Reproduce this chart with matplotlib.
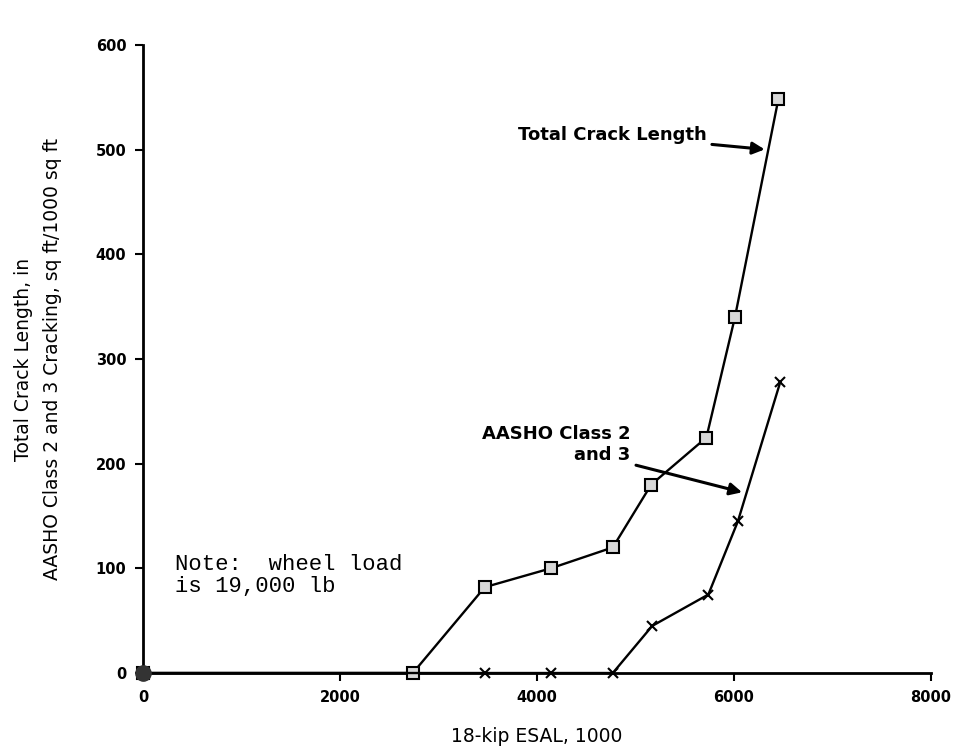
import matplotlib
matplotlib.use("Agg")
import matplotlib.pyplot as plt

# Total crack length (square markers)
esal_total = [0, 2740, 3470, 4140, 4770, 5160, 5720, 6010, 6450]
crack_total = [0, 0, 82, 100, 120, 180, 225, 340, 548]

# AASHO class 2 and 3 cracking (x markers)
esal_aasho = [0, 3470, 4140, 4770, 5170, 5740, 6040, 6470]
crack_aasho = [0, 0, 0, 0, 45, 75, 145, 278]

xticks = [0, 2000, 4000, 6000, 8000]
yticks = [0, 100, 200, 300, 400, 500, 600]

fig = plt.figure(figsize=(9.57, 7.55), dpi=100)
ax = fig.add_axes([0.1494, 0.1086, 0.8234, 0.8318])

ax.plot(esal_total, crack_total, color="black", lw=1.7,
        marker="s", ms=8, mfc="#d8d8d8", mec="black", mew=1.5, clip_on=False, zorder=3)
ax.plot(esal_aasho, crack_aasho, color="black", lw=1.7,
        marker="x", ms=7, mew=1.5, clip_on=False, zorder=3)
ax.plot([0], [0], marker="o", ms=11, color="#333333", clip_on=False, zorder=4)

ax.set_xlim(0, 8000)
ax.set_ylim(0, 600)
ax.set_xticks(xticks)
ax.set_yticks(yticks)
ax.tick_params(direction="out", length=6, width=1.5, labelsize=10.5, pad=6)
for lab in ax.get_xticklabels() + ax.get_yticklabels():
    lab.set_fontweight("bold")

for s in ["top", "right"]:
    ax.spines[s].set_visible(False)
for s in ["left", "bottom"]:
    ax.spines[s].set_linewidth(2)

ax.set_xlabel("18-kip ESAL, 1000", fontsize=13.5, labelpad=16)
ax.set_ylabel("Total Crack Length, in\nAASHO Class 2 and 3 Cracking, sq ft/1000 sq ft",
              fontsize=13.5, labelpad=24, linespacing=1.7)

ax.annotate("Total Crack Length", xy=(6340, 500), xytext=(5720, 514),
            ha="right", va="center", fontsize=13, fontweight="bold",
            arrowprops=dict(arrowstyle="-|>", color="black", lw=2.2, mutation_scale=18))
ax.annotate("AASHO Class 2\nand 3", xy=(6110, 172), xytext=(4950, 218),
            ha="right", va="center", fontsize=13, fontweight="bold", multialignment="right",
            arrowprops=dict(arrowstyle="-|>", color="black", lw=2.2, mutation_scale=18))

ax.text(325, 114, "Note:  wheel load\nis 19,000 lb", family="Liberation Mono",
        fontsize=16, va="top", ha="left", linespacing=1.1)

fig.savefig("out.png", dpi=100)
